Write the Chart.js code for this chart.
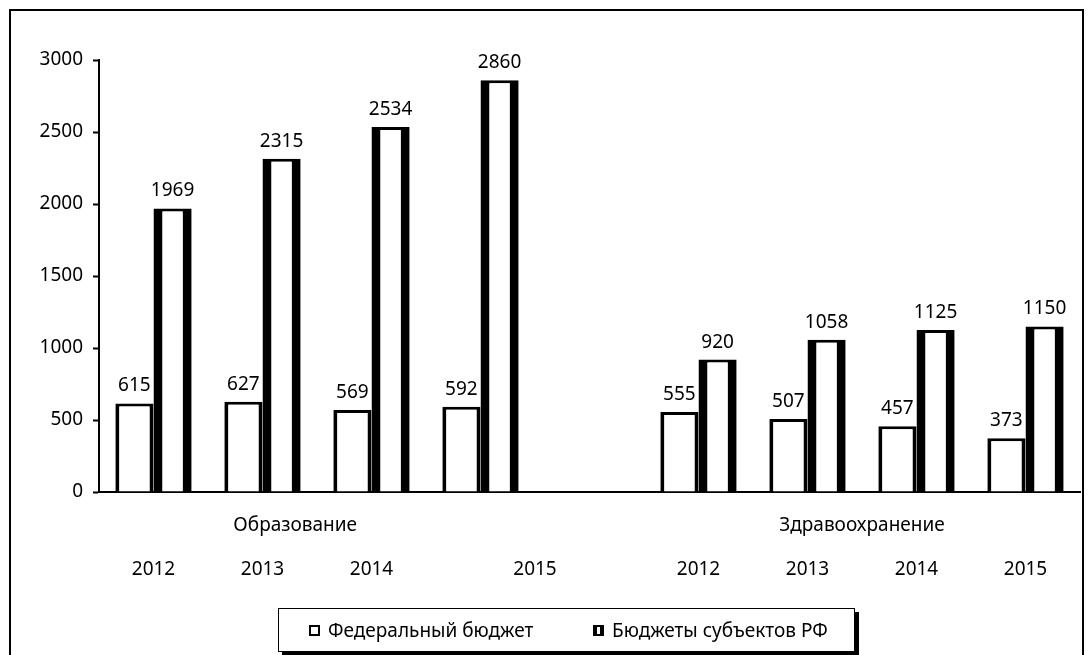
<!DOCTYPE html>
<html>
<head>
<meta charset="utf-8">
<script src="https://cdn.jsdelivr.net/npm/chart.js@4"></script>
<style>
  body { margin: 0; background: #fff; font-family: "Noto Sans", sans-serif; }
  #wrap { position: relative; width: 1092px; height: 655px; overflow: hidden; }
  #frame { position: absolute; left: 9px; top: 9px; width: 1071px; height: 700px; border: 2px solid #000; }
  #chart { position: absolute; left: 0; top: 0; }
  #legend { position: absolute; left: 278px; top: 608px; width: 575px; height: 42px; border: 1px solid #000;
            box-shadow: 4px 4px 0 #000; background: #fff; font-size: 19px; color: #000; }
  .item { position: absolute; top: 0; height: 42px; display: flex; align-items: center; white-space: nowrap; }
  .mark { width: 11px; height: 11px; box-sizing: border-box; margin-right: 8px; border: 2px solid #000; }
</style>
</head>
<body>
<div id="wrap">
  <div id="frame"></div>
  <canvas id="chart" width="1092" height="655"></canvas>
  <div id="legend"></div>
</div>
<script>
// slots on the x axis (one empty slot between the two groups)
const slots = ['2012', '2013', '2014', '2015', '', '2012', '2013', '2014', '2015'];
const federal = [615, 627, 569, 592, null, 555, 507, 457, 373];
const regional = [1969, 2315, 2534, 2860, null, 920, 1058, 1125, 1150];
const seriesNames = ['Федеральный бюджет', 'Бюджеты субъектов РФ'];
const groupNames = ['Образование', 'Здравоохранение'];
const yTicks = [0, 500, 1000, 1500, 2000, 2500, 3000];

// where the text under the axis sits, in slot units
const groupAt = [1.3, 6.5];
const yearAt = [0, 1, 2, 3.5, 5, 6, 7, 8];

const FONT = '19px "Noto Sans"';

const textPlugin = {
    id: 'texts',
    afterDatasetsDraw(chart) {
        const ctx = chart.ctx;
        ctx.save();
        ctx.font = FONT;
        ctx.fillStyle = '#000';
        ctx.textAlign = 'center';
        ctx.textBaseline = 'alphabetic';
        chart.data.datasets.forEach((ds, i) => {
            chart.getDatasetMeta(i).data.forEach((bar, j) => {
                if (ds.data[j] == null) return;
                ctx.fillText(ds.data[j], bar.x, bar.y - 12);
            });
        });
        const xs = chart.scales.x;
        const bottom = chart.chartArea.bottom;
        ctx.textBaseline = 'middle';
        groupNames.forEach((g, k) => ctx.fillText(g, xs.getPixelForValue(groupAt[k]), bottom + 34));
        const years = slots.filter(s => s !== '');
        years.forEach((y, k) => ctx.fillText(y, xs.getPixelForValue(yearAt[k]), bottom + 78));
        ctx.restore();
    }
};

const chart = new Chart(document.getElementById('chart'), {
    type: 'bar',
    data: {
        labels: slots,
        datasets: [{
            label: seriesNames[0],
            data: federal,
            backgroundColor: '#fff',
            borderColor: '#000',
            borderWidth: { left: 4, right: 4, top: 3, bottom: 0 }
        }, {
            label: seriesNames[1],
            data: regional,
            backgroundColor: '#fff',
            borderColor: '#000',
            borderWidth: { left: 9, right: 9, top: 3, bottom: 0 }
        }]
    },
    options: {
        responsive: false,
        animation: false,
        datasets: { bar: { categoryPercentage: 0.7, barPercentage: 1.0 } },
        layout: { padding: { top: 60, right: 12, bottom: 163, left: 0 } },
        plugins: { legend: { display: false }, tooltip: { enabled: false } },
        scales: {
            x: {
                ticks: { display: false },
                grid: { display: false },
                border: { color: '#000', width: 2 },
                afterFit: s => { s.height = 0; }
            },
            y: {
                min: 0,
                max: 3000,
                afterBuildTicks: s => { s.ticks = yTicks.map(v => ({ value: v })); },
                ticks: {
                    color: '#000', padding: 10, font: { family: 'Noto Sans', size: 19 },
                    callback: v => String(v)
                },
                grid: { drawOnChartArea: false, drawTicks: true, tickLength: 6, tickWidth: 2, color: '#000' },
                border: { color: '#000', width: 2 },
                afterFit: s => { s.width = 99; }
            }
        }
    },
    plugins: [textPlugin]
});

// legend box below the chart
const legend = document.getElementById('legend');
const markStyles = [
    'background:#fff;',
    'background:linear-gradient(to right,#000 35%,#fff 35%,#fff 65%,#000 65%);'
];
const itemLeft = [30, 314];
seriesNames.forEach((name, i) => {
    const item = document.createElement('div');
    item.className = 'item';
    item.style.left = itemLeft[i] + 'px';
    item.innerHTML = '<span class="mark" style="' + markStyles[i] + '"></span>' + name;
    legend.appendChild(item);
});
</script>
</body>
</html>
